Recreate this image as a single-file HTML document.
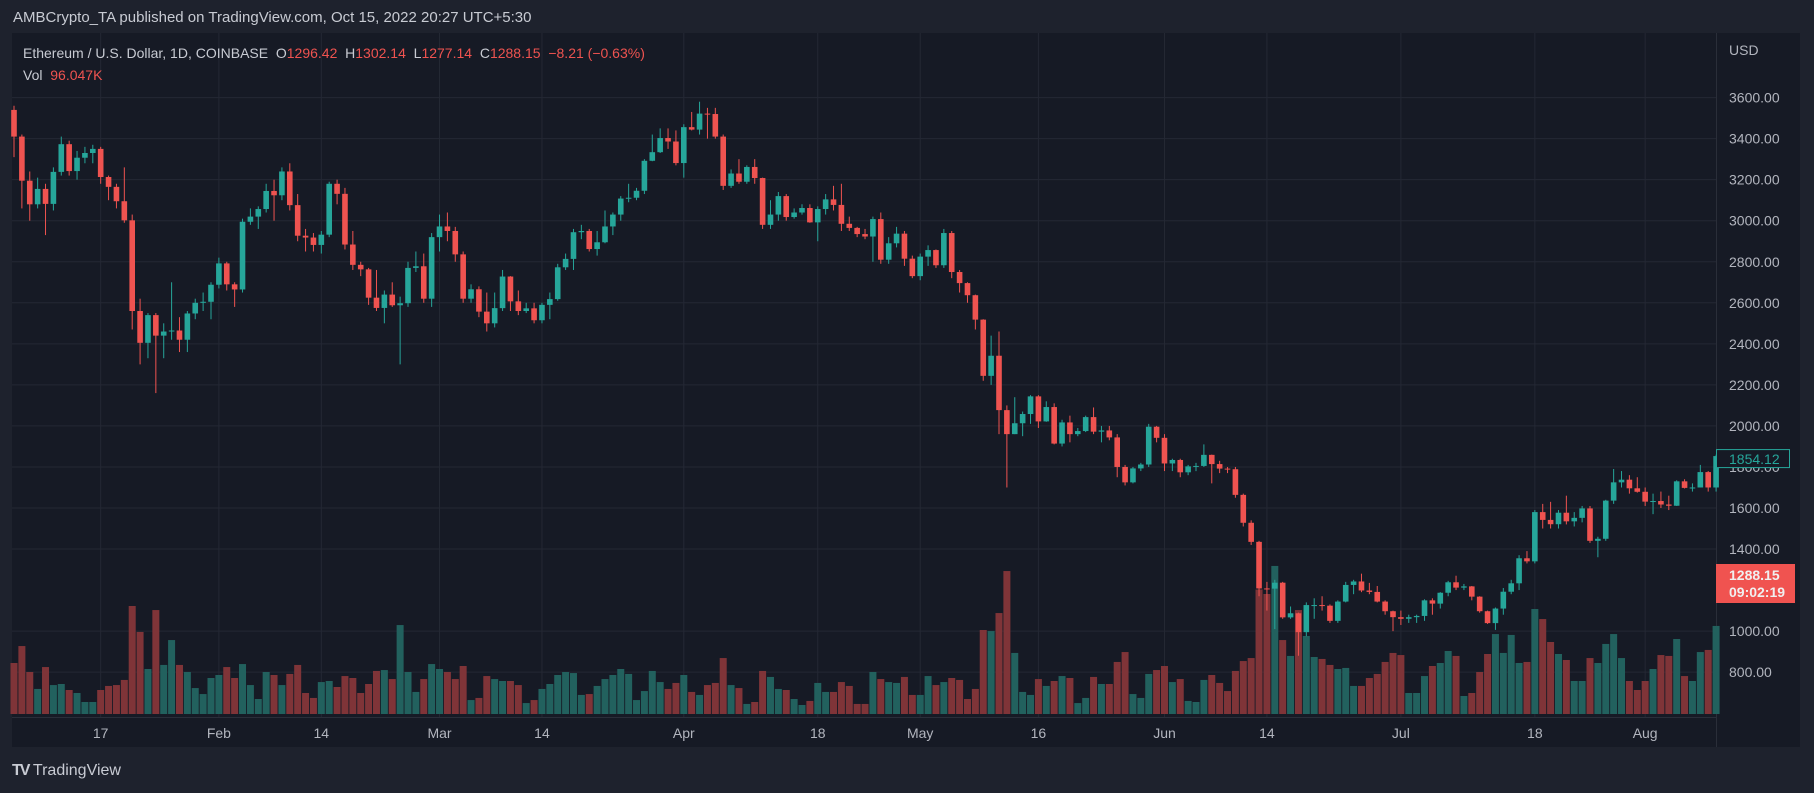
<!DOCTYPE html>
<html><head><meta charset="utf-8">
<style>
html,body{margin:0;padding:0;background:#1e222d;}
body{width:1814px;height:793px;overflow:hidden;position:relative;font-family:"Liberation Sans",sans-serif;}
#hdr{position:absolute;left:13px;top:9px;color:#c8cbd3;font-size:15px;}
#panel{position:absolute;left:12px;top:33px;width:1788px;height:714px;background:#161a25;}
#logo{position:absolute;left:12px;top:762px;color:#c8cbd3;font-size:16px;font-weight:bold;}
</style></head>
<body>
<div id="hdr">AMBCrypto_TA published on TradingView.com, Oct 15, 2022 20:27 UTC+5:30</div>
<div id="panel"></div>
<svg id="chart" width="1814" height="793" style="position:absolute;left:0;top:0" xmlns="http://www.w3.org/2000/svg"></svg>
<div id="logo"><span style="letter-spacing:-2px">TV</span> <span style="font-weight:normal">TradingView</span></div>
<script>
const closes=[3410,3195,3080,3155,3082,3238,3373,3242,3307,3330,3350,3213,3165,3095,3002,2560,2405,2540,2440,2460,2465,2420,2548,2600,2605,2688,
2792,2690,2665,2995,3020,3057,3145,3124,3240,3076,2927,2918,2882,2932,3180,3131,2884,2785,2763,2625,2575,2640,2588,2598,2770,2778,2620,2920,
2972,2950,2836,2620,2666,2557,2500,2574,2728,2607,2560,2573,2515,2590,2618,2773,2814,2944,2950,2862,2895,2972,3030,3108,3112,3146,3292,3334,3403,3386,3281,
3456,3444,3522,3520,3410,3170,3230,3190,3262,3208,2980,3030,3120,3018,3040,3062,2992,3057,3104,3077,2985,2965,2935,2923,3008,2810,2890,2937,2815,2730,
2825,2857,2783,2940,2750,2696,2637,2518,2244,2342,2077,1960,2013,2058,2144,2022,2092,1914,2017,1960,1975,2043,1972,1978,1944,1800,1725,1793,1812,1996,1942,
1817,1834,1774,1803,1805,1859,1814,1792,1789,1664,1528,1435,1208,1207,1236,1067,1087,995,1127,1127,1124,1050,1144,1225,1242,1198,1191,1144,1097,1068,
1060,1068,1074,1150,1134,1187,1238,1212,1218,1168,1097,1039,1110,1192,1233,1355,1340,1580,1542,1521,1577,1535,1552,1598,1440,1450,1636,1725,1738,1696,1679,
1631,1634,1617,1611,1730,1698,1700,1775,1700,1853];
const firstOpen=3540;
const highs=[3560,3420,3240,3210,3180,3260,3410,3390,3340,3360,3370,3360,3220,3180,3260,3030,2620,2550,2550,2500,2700,2530,2560,2620,2650,2700,
2820,2800,2700,3010,3060,3070,3180,3200,3260,3280,3130,2960,2940,2950,3190,3200,3160,2950,2800,2770,2760,2660,2700,2630,2800,2850,2840,2940,
3030,3040,2970,2850,2690,2680,2650,2650,2760,2730,2660,2600,2600,2600,2650,2790,2840,2960,2980,2960,2950,3050,3040,3120,3180,3160,3300,3420,3450,3450,3440,
3470,3530,3580,3550,3550,3420,3250,3300,3270,3300,3210,3100,3140,3130,3060,3080,3080,3070,3130,3170,3180,3020,2970,2960,3020,3040,2920,2970,2950,2830,
2840,2880,2860,2960,2950,2760,2700,2640,2520,2440,2460,2100,2140,2070,2150,2150,2120,2110,2030,2050,1990,2050,2090,2000,2000,1960,1810,1800,1820,2010,2000,
1960,1840,1840,1810,1820,1910,1860,1830,1800,1800,1670,1540,1440,1240,1250,1240,1120,1090,1140,1160,1170,1130,1150,1240,1250,1280,1235,1220,1150,1100,
1100,1080,1080,1155,1160,1190,1245,1270,1230,1220,1170,1100,1115,1210,1250,1370,1390,1590,1620,1630,1590,1660,1580,1610,1610,1460,1640,1790,1780,1760,1750,
1700,1670,1680,1660,1735,1740,1720,1810,1780,1860];
const lows=[3310,3060,3000,3060,2930,3050,3220,3220,3200,3280,3280,3180,3100,3060,2990,2470,2300,2330,2160,2330,2420,2360,2360,2520,2560,2520,
2670,2660,2580,2650,2980,2960,3040,3000,3100,3050,2900,2850,2850,2840,2920,3080,2860,2760,2730,2590,2560,2500,2580,2300,2580,2750,2600,2580,
2850,2900,2800,2600,2600,2530,2460,2480,2560,2560,2540,2550,2500,2500,2520,2610,2760,2760,2910,2850,2830,2890,2930,3000,3090,3100,3130,3290,3330,3350,3270,
3210,3440,3420,3400,3400,3150,3160,3180,3180,3180,2960,2960,3000,3000,3010,3030,2990,2900,3030,3050,2950,2950,2920,2910,2800,2790,2790,2870,2780,2720,
2710,2780,2770,2770,2720,2650,2600,2470,2220,2200,1960,1700,1960,1950,2010,1990,2020,1910,1900,1920,1950,1970,1960,1920,1930,1750,1710,1720,1780,1800,1920,
1780,1780,1750,1760,1780,1800,1720,1770,1770,1650,1510,1420,1170,1100,1010,1060,1060,880,975,1060,1100,1040,1040,1140,1180,1190,1180,1140,1080,1000,
1030,1040,1040,1050,1080,1110,1170,1200,1200,1150,1090,1035,1006,1080,1180,1200,1330,1330,1500,1500,1500,1520,1510,1530,1430,1360,1440,1620,1700,1670,1675,
1610,1570,1600,1590,1610,1695,1680,1700,1680,1680];
const volumes=[340,453,280,167,313,193,200,160,140,80,80,160,187,193,227,720,547,300,693,327,493,327,280,173,133,240,
260,313,240,333,193,100,280,260,193,267,327,140,107,213,220,180,253,240,140,200,287,293,233,593,280,147,233,333,
300,280,233,320,93,107,253,233,220,220,193,73,93,167,200,260,280,273,127,133,187,233,260,300,267,93,153,287,213,167,207,
260,147,127,193,207,373,193,173,67,80,287,247,167,160,100,60,87,207,147,147,213,187,67,67,280,233,213,207,247,127,
127,253,193,213,240,227,100,167,560,553,673,953,407,147,127,233,187,220,253,240,73,107,247,200,200,347,413,133,107,267,293,
320,213,233,87,80,227,260,207,153,287,353,373,830,800,987,493,387,693,520,380,367,327,300,307,187,187,240,267,347,407,
393,140,140,253,320,340,420,387,120,140,280,400,533,407,527,340,347,700,633,480,400,360,220,220,373,340,467,533,373,220,
160,220,300,393,387,500,253,220,413,427,587];
const priceTicks=[3600,3400,3200,3000,2800,2600,2400,2200,2000,1800,1600,1400,1000,800];
const tickIdx=[11,26,39,54,67,85,102,115,130,146,159,176,193,207];
const tickText=["17","Feb","14","Mar","14","Apr","18","May","16","Jun","14","Jul","18","Aug"];

const NS="http://www.w3.org/2000/svg";
const svg=document.getElementById('chart');
const X0=14,STEP=7.88,PL=12,PR=1716,VB=714,VK=0.15;
function xs(i){return X0+i*STEP;}
function ys(p){return 97.6+(3600-p)*0.2052;}
function mk(tag,attrs,parent){const e=document.createElementNS(NS,tag);for(const k in attrs)e.setAttribute(k,attrs[k]);(parent||svg).appendChild(e);return e;}

// grid
const grid=mk('g',{});


priceTicks.forEach(p=>{const l=mk('line',{x1:PL,x2:PR,y1:ys(p),y2:ys(p),stroke:'#242834','stroke-width':1},grid);

});
tickIdx.forEach(i=>{const l=mk('line',{x1:xs(i),x2:xs(i),y1:33,y2:717,stroke:'#242834','stroke-width':1},grid);

});
// price axis separator
mk('line',{x1:PR+0.5,x2:PR+0.5,y1:33,y2:747,stroke:'#2a2e39'});
mk('line',{x1:12,x2:1716,y1:717.5,y2:717.5,stroke:'#2a2e39'});

// volume
const vg=mk('g',{});


closes.forEach((c,i)=>{const o=i?closes[i-1]:firstOpen;const h=volumes[i]*VK;
const r=mk('rect',{x:xs(i)-3.5,y:VB-h,width:7,height:h,fill:c>=o?'#22615e':'#7f3438'},vg);

});

// candles
const cg=mk('g',{});


closes.forEach((c,i)=>{const o=i?closes[i-1]:firstOpen;const col=c>=o?'#26a69a':'#ef5350';
const g=mk('g',{},cg);


mk('line',{x1:xs(i),x2:xs(i),y1:ys(highs[i]),y2:ys(lows[i]),stroke:col,'stroke-width':1},g);
const t=ys(Math.max(o,c)),b=ys(Math.min(o,c));
mk('rect',{x:xs(i)-2.8,y:t,width:5.6,height:Math.max(1,b-t),fill:col},g);});

// axes labels
priceTicks.forEach(p=>{const t=mk('text',{x:1729,y:ys(p)+5,fill:'#b2b5be','font-size':14,'font-family':'Liberation Sans, sans-serif'});t.textContent=p.toFixed(2);

});
tickIdx.forEach((i,k)=>{const t=mk('text',{x:xs(i),y:738,fill:'#b2b5be','font-size':14,'text-anchor':'middle','font-family':'Liberation Sans, sans-serif'});t.textContent=tickText[k];

});
const usd=mk('text',{x:1729,y:55,fill:'#b2b5be','font-size':14,'font-family':'Liberation Sans, sans-serif'});usd.textContent='USD';



// last price box
const lc=closes[closes.length-1];
const gb=mk('g',{});


mk('rect',{x:1716.5,y:ys(lc)-6.5,width:73,height:18,fill:'#161a25',stroke:'#26a69a'},gb);
const lt=mk('text',{x:1729,y:ys(lc)+8,fill:'#26a69a','font-size':14,'font-family':'Liberation Sans, sans-serif'},gb);lt.textContent='1854.12';
const rb=mk('g',{});


mk('rect',{x:1716,y:564,width:79,height:39,fill:'#f05350'},rb);
const r1=mk('text',{x:1729,y:580,fill:'#f0f0f0','font-size':14,'font-weight':'bold','font-family':'Liberation Sans, sans-serif'},rb);r1.textContent='1288.15';
const r2=mk('text',{x:1729,y:597,fill:'#f0f0f0','font-size':14,'font-weight':'bold','font-family':'Liberation Sans, sans-serif'},rb);r2.textContent='09:02:19';

// legend
const lg=mk('text',{x:23,y:58,'font-size':14,fill:'#c8cbd3','font-family':'Liberation Sans, sans-serif'});


lg.innerHTML='Ethereum / U.S. Dollar, 1D, COINBASE  O<tspan fill="#ef5350">1296.42</tspan>  H<tspan fill="#ef5350">1302.14</tspan>  L<tspan fill="#ef5350">1277.14</tspan>  C<tspan fill="#ef5350">1288.15</tspan>  <tspan fill="#ef5350">−8.21 (−0.63%)</tspan>';
lg.setAttribute('xml:space','preserve');lg.style.whiteSpace='pre';
const vl=mk('text',{x:23,y:80,'font-size':14,fill:'#c8cbd3','font-family':'Liberation Sans, sans-serif'});


vl.innerHTML='Vol  <tspan fill="#ef5350">96.047K</tspan>';vl.style.whiteSpace='pre';
</script>
</body></html>
